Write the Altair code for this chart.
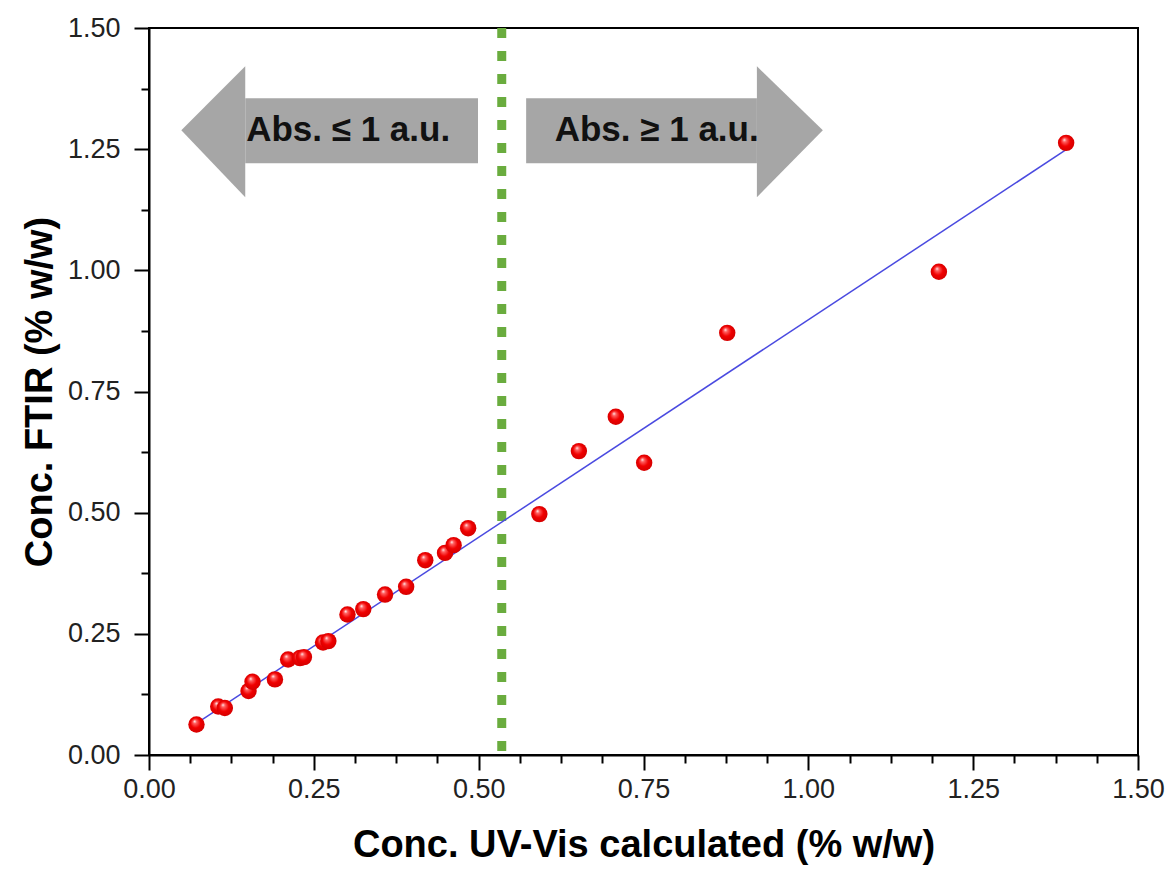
import altair as alt
import pandas as pd

# --- measured data ---
uv_vis = [0.072, 0.105, 0.115, 0.151, 0.157, 0.191, 0.211, 0.229, 0.235, 0.264,
          0.272, 0.301, 0.325, 0.358, 0.390, 0.419, 0.449, 0.462, 0.484, 0.592,
          0.652, 0.708, 0.751, 0.877, 1.198, 1.391]
ftir = [0.063, 0.100, 0.097, 0.132, 0.151, 0.156, 0.197, 0.200, 0.202, 0.232,
        0.235, 0.290, 0.301, 0.331, 0.347, 0.402, 0.417, 0.433, 0.468, 0.497,
        0.627, 0.698, 0.603, 0.871, 0.997, 1.263]

# linear fit endpoints
fit_x = [0.072, 1.391]
fit_y = [0.065, 1.249]

# threshold line
threshold_x = [0.535]

# annotation arrows: heads (triangles) and bodies (rectangles)
head_x = [0.049, 0.146, 0.922, 1.022]
head_top = [1.289, 1.421, 1.421, 1.289]
head_bottom = [1.289, 1.151, 1.151, 1.289]
head_id = ["L", "L", "R", "R"]
body_x1 = [0.146, 0.572]
body_x2 = [0.499, 0.922]
body_top = [1.355, 1.355]
body_bottom = [1.221, 1.221]
arrow_labels = ["Abs. \u2264 1 a.u.", "Abs. \u2265 1 a.u."]
arrow_label_x = [0.302, 0.770]
arrow_label_y = [1.289, 1.289]

FONT = "Liberation Sans"
ARROW_GRAY = "#a6a6a6"

pts = pd.DataFrame({"x": uv_vis, "y": ftir})
fit = pd.DataFrame({"x": fit_x, "y": fit_y})
thr = pd.DataFrame({"x": threshold_x})
heads = pd.DataFrame({"x": head_x, "top": head_top, "bottom": head_bottom, "id": head_id})
bodies = pd.DataFrame({"x1": body_x1, "x2": body_x2, "top": body_top, "bottom": body_bottom})
labels = pd.DataFrame({"x": arrow_label_x, "y": arrow_label_y, "t": arrow_labels})

ticks = [i * 0.0625 for i in range(25)]
major_test = "abs(datum.value*4 - round(datum.value*4)) < 0.001"

xscale = alt.Scale(domain=[0, 1.5], nice=False, zero=False)
yscale = alt.Scale(domain=[0, 1.5], nice=False, zero=False)

xaxis = alt.Axis(
    title="Conc. UV-Vis calculated (% w/w)",
    values=ticks,
    labelExpr=f"{major_test} ? format(datum.value, '.2f') : ''",
    tickSize={"condition": {"test": major_test, "value": 15}, "value": 8},
    tickColor="black", tickWidth=2, domainColor="black", domainWidth=2,
    labelFont=FONT, labelFontSize=27, labelColor="#222222", labelPadding=6,
    labelOverlap=False, labelFlush=False, grid=False,
    titleFont=FONT, titleFontSize=38, titleFontWeight="bold", titleColor="black",
    titlePadding=24,
)
yaxis = alt.Axis(
    title="Conc. FTIR (% w/w)",
    values=ticks,
    labelExpr=f"{major_test} ? format(datum.value, '.2f') : ''",
    tickSize={"condition": {"test": major_test, "value": 15}, "value": 8},
    tickColor="black", tickWidth=2, domainColor="black", domainWidth=2,
    labelFont=FONT, labelFontSize=27, labelColor="#222222", labelPadding=14,
    labelOverlap=False, labelFlush=False, grid=False,
    titleFont=FONT, titleFontSize=38, titleFontWeight="bold", titleColor="black",
    titlePadding=8,
)

body_layer = alt.Chart(bodies).mark_rect(color=ARROW_GRAY, opacity=1).encode(
    x=alt.X("x1:Q", scale=xscale, axis=xaxis),
    x2="x2:Q",
    y=alt.Y("top:Q", scale=yscale, axis=yaxis),
    y2="bottom:Q",
)

head_layer = alt.Chart(heads).mark_area(color=ARROW_GRAY, opacity=1).encode(
    x="x:Q",
    y=alt.Y("top:Q", stack=None),
    y2="bottom:Q",
    detail="id:N",
)

label_layer = alt.Chart(labels).mark_text(
    font=FONT, fontSize=35, fontWeight="bold", color="#111111",
    align="center", baseline="middle"
).encode(x="x:Q", y="y:Q", text="t:N")

thr_layer = alt.Chart(thr).mark_rule(
    color="#6aac3e", strokeWidth=9, strokeDash=[10, 13]
).encode(x="x:Q")

fit_layer = alt.Chart(fit).mark_line(color="#4a4ae0", strokeWidth=1.5).encode(
    x="x:Q", y="y:Q"
)

grad = {
    "gradient": "radial",
    "x1": 0.38, "y1": 0.3, "r1": 0.0,
    "x2": 0.5, "y2": 0.5, "r2": 0.55,
    "stops": [
        {"offset": 0.0, "color": "#ffffff"},
        {"offset": 0.2, "color": "#ff6060"},
        {"offset": 0.55, "color": "#f00000"},
        {"offset": 1.0, "color": "#d00000"},
    ],
}
pt_layer = alt.Chart(pts).mark_point(
    shape="circle", filled=True, fill=grad, size=270, opacity=1, strokeWidth=0
).encode(x="x:Q", y="y:Q")

chart = alt.layer(body_layer, head_layer, label_layer, thr_layer, fit_layer, pt_layer).properties(
    width=989, height=727,
    autosize=alt.AutoSizeParams(type="none"),
    padding={"left": 149, "top": 28, "right": 36, "bottom": 122},
    background="white",
).configure_view(stroke="black", strokeWidth=2)

chart.save("out.html", embed_options={"renderer": "svg", "actions": False})
